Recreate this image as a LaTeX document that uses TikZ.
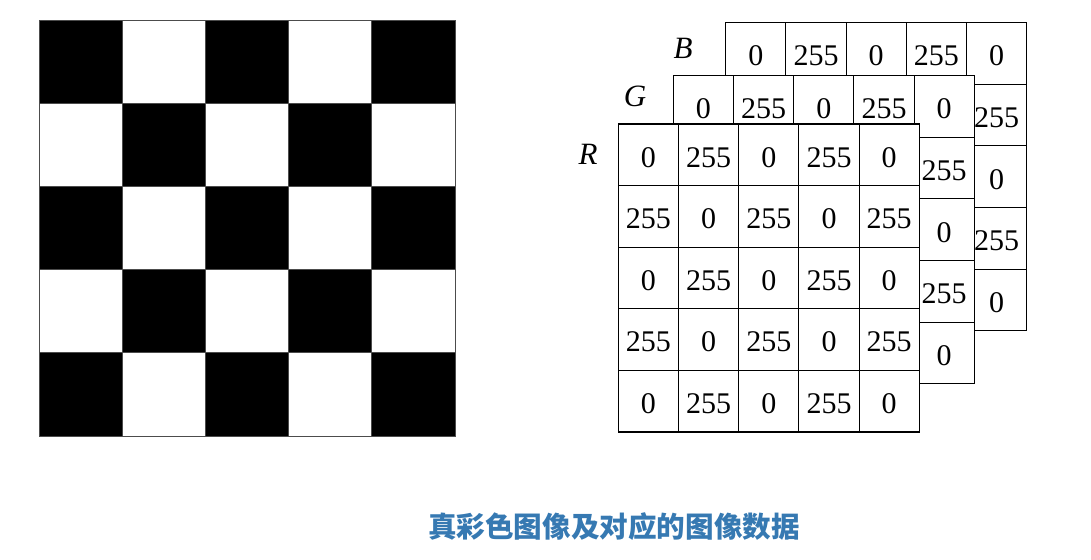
\documentclass[tikz,border=0pt]{standalone}
\usepackage{fontspec}
\setmainfont{Liberation Serif}
\newfontfamily\cjk{Noto Sans CJK SC}
\usepackage{xcolor}
\usetikzlibrary{math}
\usetikzlibrary{positioning}

\definecolor{captionblue}{RGB}{54,121,178}

\tikzset{
  sq/.style={draw=black!70, line width=0.8pt},
  cell/.style={draw, fill=white, line width=1.1pt, inner sep=0pt,
    minimum width=\cw pt, minimum height=\ch pt},
  num/.style={inner sep=0pt, font=\fontsize{30}{36}\selectfont},
  chan/.style={inner sep=0pt, font=\fontsize{31}{36}\selectfont\itshape},
  caption/.style={inner sep=0pt, text=captionblue,
    font=\cjk\bfseries\fontsize{28.6}{32}\selectfont}
}

\begin{document}
\begin{tikzpicture}[x=1pt,y=-1pt]

  \tikzmath{
    \bx    = 39;    % left of the chessboard
    \by    = 20;    % top of the chessboard
    \bcell = 83.2;  % side of one chessboard square
    \cw    = 60.2;  % width of a data cell
    \ch    = 61.6;  % height of a data cell
  }

  \useasboundingbox (0,0) rectangle (1091,559);

  % Chessboard, black square in the top left corner
  \foreach \i in {0,...,4}
    \foreach \j in {0,...,4} {
      \pgfmathtruncatemacro\pct{100*(1-mod(\i+\j,2))}
      \draw[sq, fill=black!\pct]
        ({\bx+\j*\bcell},{\by+\i*\bcell}) rectangle ++(\bcell,\bcell);
    }

  % Layers B, G, R, back to front (hidden cells of B and G left out)
  \foreach \layer/\ox/\oy/\lx/\ly/\front in {B/725.7/22.7/683/48/0,
                                             G/673.3/75.7/635/96/0,
                                             R/618.3/124/588/154/1} {
    \node[chan] (lab-\layer) at (\lx,\ly) {\layer};
    \foreach \i in {0,...,4}
      \foreach \j in {0,...,4} {
        \pgfmathtruncatemacro\val{255*mod(\i+\j,2)}
        \pgfmathtruncatemacro\seen{or(or(\i==0,\j==4),\front==1)}
        \ifnum\seen=1
          \node[cell] (\layer-\i-\j) at ({\ox+(\j+0.5)*\cw},{\oy+(\i+0.5)*\ch}) {};
          \node[num] at ([yshift=-2.5pt]\layer-\i-\j.center) {\val};
        \fi
      }
  }

  % caption
  \node[caption] (title) at (614,527) {真彩色图像及对应的图像数据};

\end{tikzpicture}
\end{document}
